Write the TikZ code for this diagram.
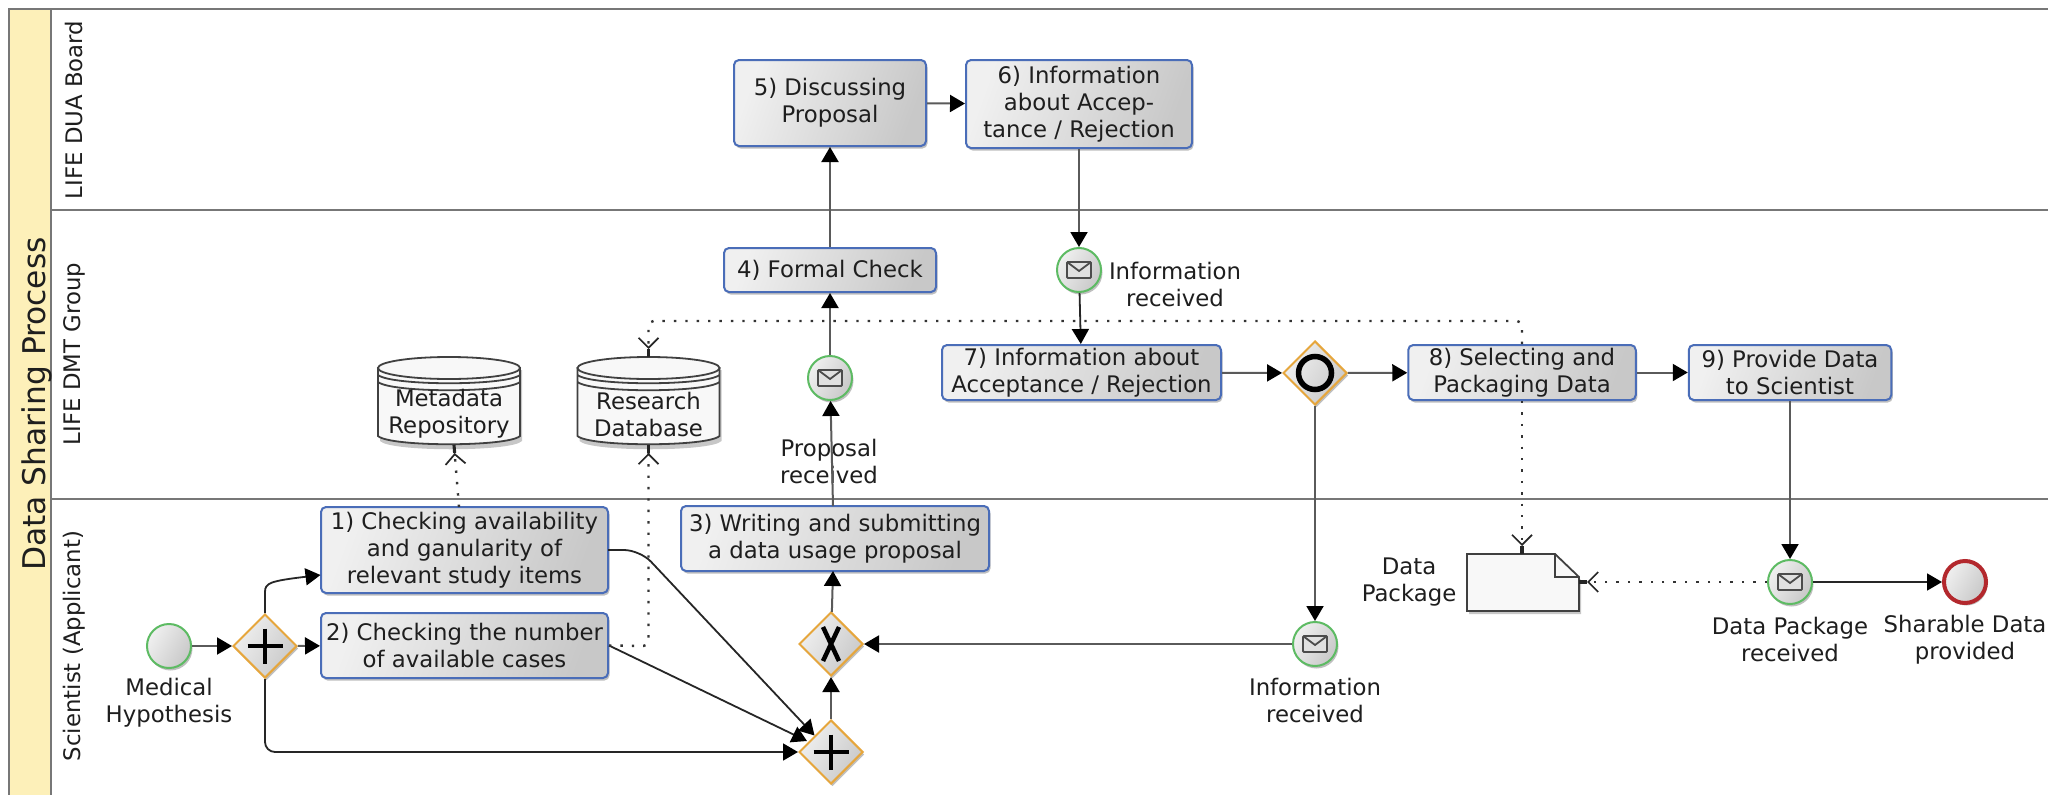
\documentclass[tikz,border=0pt]{standalone}
\usepackage{fontspec}
\setmainfont{DejaVu Sans}
\usetikzlibrary{arrows.meta,shapes.geometric,shadows,calc}
\definecolor{txt}{HTML}{1E1E1E}
\definecolor{poolline}{HTML}{777777}
\definecolor{flowgray}{HTML}{5A5A5A}
\definecolor{taskblue}{HTML}{4A6DB8}
\definecolor{gworange}{HTML}{E6A63C}
\definecolor{evgreen}{HTML}{5DBB63}
\definecolor{evred}{HTML}{B3282D}
\definecolor{poolyellow}{HTML}{FDF0B9}
\definecolor{gradA}{HTML}{F0F0F0}
\definecolor{gradB}{HTML}{C8C8C8}
\definecolor{objfill}{HTML}{F8F8F8}
\tikzset{
  softshadow/.style={drop shadow={shadow xshift=1.5pt,shadow yshift=-2.5pt,opacity=.25,fill=black}},
  grad/.style={left color=gradA,right color=gradB,shading angle=70},
  taskbox/.style={draw=taskblue,line width=2pt,rounded corners=5pt,grad,softshadow,inner sep=0pt,align=center,text=txt,font=\mainlab},
  gwbox/.style={diamond,aspect=1,draw=gworange,line width=2pt,left color=gradA,right color=gradB,shading angle=60,softshadow,inner sep=0pt,minimum width=64pt,minimum height=64pt},
  evbox/.style={circle,draw=evgreen,line width=2pt,left color=gradA,right color=gradB,shading angle=60,softshadow,inner sep=0pt,minimum size=44pt},
  endbox/.style={circle,draw=evred,line width=4pt,left color=gradA,right color=gradB,shading angle=60,softshadow,inner sep=0pt,minimum size=42pt},
  lab/.style={align=center,text=txt,font=\mainlab,inner sep=0pt},
  lanelab/.style={rotate=90,text=txt,font=\mainlab,inner sep=0pt},
  flow/.style={draw=flowgray,line width=2pt,-{Triangle[length=15pt,width=17pt,fill=black,color=black]}},
  darkflow/.style={draw=black!85,line width=1.8pt,-{Triangle[length=15pt,width=17pt,fill=black,color=black]}},
  assoc/.style={draw=black!80,line width=2.4pt,dash pattern=on 2.4pt off 9pt,
    -{Straight Barb[length=10pt,width=20pt,line width=1.7pt,sep=0pt,color=black!85]Rectangle[length=8pt,width=1.7pt,sep=0pt,color=black!85]}},
  symb/.style={draw=black,line width=4pt},
  objline/.style={draw=black!75,line width=1.8pt,fill=objfill},
}
\newcommand\mainlab{\fontsize{22.8}{27}\selectfont}
\newcommand\envelope[1]{%
  \draw[draw=black!70,line width=1.8pt,fill=white!88!black,rounded corners=1pt] ($(#1)+(-12,-8)$) rectangle ($(#1)+(12,8)$);
  \draw[draw=black!70,line width=1.8pt] ($(#1)+(-12,-8)$) -- ($(#1)+(0,1)$) -- ($(#1)+(12,-8)$);
}
\newcommand\dbdrum[2]{%
  \fill[black,opacity=.22] ($(#1,370)+(-#2+2,0)$) -- ($(#1,441)+(-#2+2,0)$) .. controls ($(#1,452)+(-#2+12,0)$) and ($(#1,452)+(#2-8,0)$) .. ($(#1,441)+(#2+2,0)$) -- ($(#1,370)+(#2+2,0)$) -- cycle;
  \path[objline] ($(#1,368)+(-#2,0)$) -- ($(#1,436)+(-#2,0)$) .. controls ($(#1,447)+(-#2+12,0)$) and ($(#1,447)+(#2-12,0)$) .. ($(#1,436)+(#2,0)$) -- ($(#1,368)+(#2,0)$) -- cycle;
  \draw[black!75,line width=1.8pt] ($(#1,375)+(-#2,0)$) .. controls ($(#1,386)+(-#2+14,0)$) and ($(#1,386)+(#2-14,0)$) .. ($(#1,375)+(#2,0)$);
  \draw[black!75,line width=1.8pt] ($(#1,382)+(-#2,0)$) .. controls ($(#1,393)+(-#2+14,0)$) and ($(#1,393)+(#2-14,0)$) .. ($(#1,382)+(#2,0)$);
  \draw[objline] (#1,368) ellipse ({#2} and 11);
}
\begin{document}
\begin{tikzpicture}[x=1pt,y=-1pt]
\useasboundingbox (0,0) rectangle (2048,795);
\fill[white] (0,0) rectangle (2048,795);
% pool and lanes
\fill[poolyellow] (9,9) rectangle (51,795);
\draw[poolline,line width=2pt] (2048,9) -- (9,9) -- (9,795);
\draw[poolline,line width=2pt] (51,9) -- (51,795);
\draw[poolline,line width=2pt] (51,209.5) -- (2048,209.5);
\draw[poolline,line width=2pt] (51,499) -- (2048,499);
\node[rotate=90,text=txt,inner sep=0pt,font=\fontsize{31.3}{34}\selectfont] (pooltitle) at (37,404) {Data Sharing Process};
\node[lanelab] (l1) at (74,110) {LIFE DUA Board};
\node[lanelab] (l2) at (74,354) {LIFE DMT Group};
\node[lanelab] (l3) at (74,646) {Scientist (Applicant)};
% tasks
\node[taskbox,minimum width=287pt,minimum height=86pt] (t1) at (464.5,550) {1) Checking availability\\and ganularity of\\relevant study items};
\node[taskbox,minimum width=287pt,minimum height=65pt] (t2) at (464.5,645.5) {2) Checking the number\\of available cases};
\node[taskbox,minimum width=308pt,minimum height=65pt] (t3) at (835,538.5) {3) Writing and submitting\\a data usage proposal};
\node[taskbox,minimum width=212pt,minimum height=44pt] (t4) at (830,270) {4) Formal Check};
\node[taskbox,minimum width=192pt,minimum height=86pt] (t5) at (830,103) {5) Discussing\\Proposal};
\node[taskbox,minimum width=226pt,minimum height=88pt] (t6) at (1079,104) {6) Information\\about Accep-\\tance / Rejection};
\node[taskbox,minimum width=279pt,minimum height=55pt] (t7) at (1081.5,372.5) {7) Information about\\Acceptance / Rejection};
\node[taskbox,minimum width=227.5pt,minimum height=55pt] (t8) at (1522,372.5) {8) Selecting and\\Packaging Data};
\node[taskbox,minimum width=202.5pt,minimum height=55pt] (t9) at (1790,372.5) {9) Provide Data\\to Scientist};
% gateways
\node[gwbox] (gw1) at (265,646) {};
\node[gwbox] (gw4) at (831,752) {};
\node[gwbox] (gw3) at (831,644) {};
\node[gwbox] (gwo) at (1315,373) {};
\draw[symb] ($(gw1)+(-17.5,0)$) -- ($(gw1)+(17.5,0)$) ($(gw1)+(0,-17.5)$) -- ($(gw1)+(0,17.5)$);
\draw[symb] ($(gw4)+(-17.5,0)$) -- ($(gw4)+(17.5,0)$) ($(gw4)+(0,-17.5)$) -- ($(gw4)+(0,17.5)$);
\draw[symb,line width=4.5pt] ($(gw3)+(-8,-17)$) -- ($(gw3)+(8,17)$) ($(gw3)+(8,-17)$) -- ($(gw3)+(-8,17)$);
\draw[symb,line width=5.5pt] (gwo) circle (16.5);
% events
\node[evbox] (start) at (169,646) {};
\node[evbox] (ev1) at (830,378) {};
\node[evbox] (ev2) at (1079,270) {};
\node[evbox] (ev3) at (1315,644) {};
\node[evbox] (ev4) at (1790,582) {};
\node[endbox] (end) at (1965,582) {};
\envelope{ev1}\envelope{ev2}\envelope{ev3}\envelope{ev4}
% data stores and data object
\dbdrum{449}{71}
\dbdrum{648.5}{71}
\node[lab] (mdb) at (449,414) {Metadata\\Repository};
\node[lab] (rdb) at (648.5,414) {Research\\Database};
\fill[black,opacity=.22] (1469,557) -- (1557,557) -- (1581,580) -- (1581,614) -- (1469,614) -- cycle;
\path[objline] (1467,554) -- (1555,554) -- (1579,577) -- (1579,611) -- (1467,611) -- cycle;
\draw[black!75,line width=1.8pt] (1555,554) -- (1555,577) -- (1579,577);
\coordinate (objT) at (1522,554);
\coordinate (objR) at (1579,582);
\coordinate (mdbS) at (454,445);
\coordinate (rdbS) at (648.5,445);
\coordinate (rdbN) at (648.5,357);
% labels
\node[lab] (lmh) at (169,702.5) {Medical\\Hypothesis};
\node[lab] (lpr) at (829,461) {Proposal\\received};
\node[lab] (lir1) at (1175,284) {Information\\received};
\node[lab] (lir2) at (1315,700.5) {Information\\received};
\node[lab] (ldp) at (1409,582.5) {Data\\Package};
\node[lab] (ldr) at (1790,639.5) {Data Package\\received};
\node[lab] (lsd) at (1965,639.5) {Sharable Data\\provided};
% sequence flows
\coordinate (t1in) at (320.5,575);
\coordinate (t1out) at (608,550);
\coordinate (t1top) at (459,507);
\coordinate (t3n) at (833,506);
\coordinate (t3s) at (833,571);
\coordinate (g4b) at (807,741);
\draw[flow] (start) -- (gw1);
\draw[flow] (gw1) -- (t2);
\draw[darkflow] (gw1.north) -- (265,592) .. controls (265,583) and (270,581) .. (t1in);
\draw[darkflow,rounded corners=10pt] (gw1.south) |- (gw4.west);
\draw[darkflow,rounded corners=16pt] (t1out) -- (640,550) -- (gw4.north west);
\draw[darkflow] (t2.east) -- (g4b);
\draw[flow] (gw4) -- (gw3);
\draw[flow] (gw3) -- (t3s);
\draw[flow] (t3n) -- (ev1);
\draw[flow] (ev1) -- (t4);
\draw[flow] (t4) -- (t5);
\draw[flow] (t5) -- (t6);
\draw[flow] (t6) -- (ev2);
\draw[darkflow] (ev2) -- (t7);
\draw[flow] (t7) -- (gwo);
\draw[flow] (gwo) -- (t8);
\draw[flow] (t8) -- (t9);
\draw[flow] (gwo) -- (ev3);
\draw[flow] (ev3) -- (gw3);
\draw[flow] (t9) -- (ev4);
\draw[darkflow] (ev4) -- (end);
% associations
\draw[assoc] (t1top) -- (mdbS);
\draw[assoc,rounded corners=5pt] (t2.east) -- (648.5,646) -- (rdbS);
\draw[assoc,rounded corners=5pt] (t8.north) -- (1522,321) -- (648.5,321) -- (rdbN);
\draw[assoc] (t8.south) -- (objT);
\draw[assoc] (ev4) -- (objR);
\end{tikzpicture}
\end{document}
